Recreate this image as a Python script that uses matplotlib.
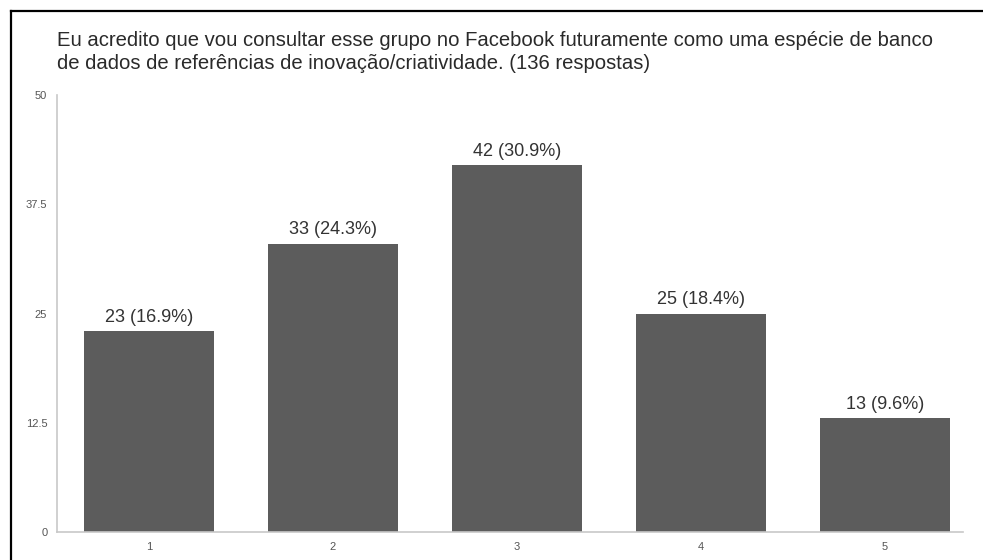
import matplotlib.pyplot as plt
from matplotlib.lines import Line2D

# respostas por nota (1 a 5)
categories = ['1', '2', '3', '4', '5']
counts = [23, 33, 42, 25, 13]
percents = [16.9, 24.3, 30.9, 18.4, 9.6]
yticks = [0, 12.5, 25, 37.5, 50]
ytick_labels = ['0', '12.5', '25', '37.5', '50']
title = ('Eu acredito que vou consultar esse grupo no Facebook futuramente como uma espécie de banco\n'
         'de dados de referências de inovação/criatividade. (136 respostas)')

plt.rcParams['font.family'] = ['Liberation Sans', 'DejaVu Sans']

W, H = 983, 560
fig = plt.figure(figsize=(W / 100, H / 100), dpi=100)
ax = fig.add_axes([57 / W, 1 - 532 / H, (963 - 57) / W, (532 - 95) / H])

x = list(range(len(categories)))
bars = ax.bar(x, counts, width=0.707, color='#5c5c5c', zorder=2)
for b, c, p in zip(bars, counts, percents):
    ax.text(b.get_x() + b.get_width() / 2, c + 0.6, f'{c} ({p}%)',
            ha='center', va='bottom', fontsize=13, color='#333333')

ax.set_xlim(-0.5, 4.425)
ax.set_ylim(0, 50)
ax.set_xticks(x)
ax.set_xticklabels(categories, fontsize=8, color='#555555')
ax.set_yticks(yticks)
ax.set_yticklabels(ytick_labels, fontsize=8, color='#555555')
ax.tick_params(length=0, pad=7)
for side in ['top', 'right']:
    ax.spines[side].set_visible(False)
for side in ['left', 'bottom']:
    ax.spines[side].set_color('#c8c8c8')
    ax.spines[side].set_linewidth(1.2)

fig.text(57 / W, 1 - 31 / H, title, ha='left', va='top', fontsize=14.6,
         color='#2a2a2a', linespacing=1.27)

# moldura preta (topo e esquerda)
fig.add_artist(Line2D([11 / W, 1], [1 - 11 / H, 1 - 11 / H], color='black', lw=1.6))
fig.add_artist(Line2D([11 / W, 11 / W], [0, 1 - 11 / H], color='black', lw=1.6))

fig.savefig('out.png', dpi=100)
